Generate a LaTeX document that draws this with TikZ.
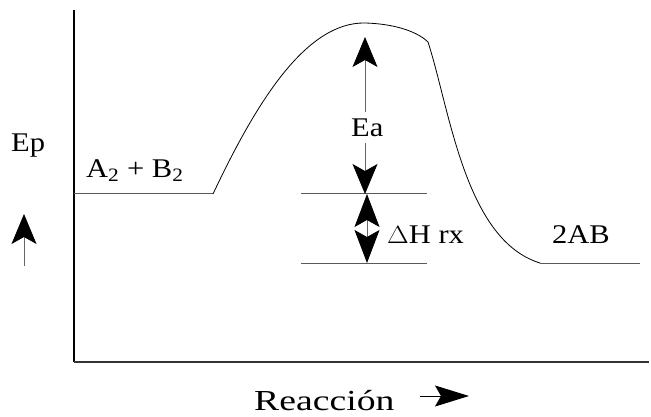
\documentclass[tikz,border=0pt]{standalone}
\usepackage{fontspec}
\usepackage{graphicx}
\setmainfont{Liberation Serif}
\usetikzlibrary{arrows.meta}
\newcommand\wtext[1]{\scalebox{1.13}[1]{#1}}
\begin{document}
\begin{tikzpicture}[x=1pt,y=-1pt,
  lbl/.style={font=\fontsize{27}{30}\selectfont, inner sep=0pt, anchor=base west},
  level/.style={draw=black!65, line width=1pt},
  bighead/.style={-{Stealth[length=30pt,width=25pt,inset=7pt,color=black]}},
  thin/.style={draw=black!60, line width=0.8pt}]
\useasboundingbox (0,0) rectangle (651,417);
% axes
\coordinate (otop) at (74,10);
\coordinate (o) at (74,362);
\coordinate (xend) at (649,362);
\draw[line width=1.4pt] (otop) -- (o);
\draw[line width=1.4pt, draw=black!80] (o) -- (xend);
% levels
\coordinate (r0) at (74,194);
\coordinate (r1) at (213,194);
\coordinate (peak) at (365,23);
\coordinate (kink) at (428,42);
\coordinate (p0) at (540,263);
\coordinate (p1) at (640,263);
\draw[level] (r0) -- (r1);
\draw[level] (p0) -- (p1);
\draw[line width=0.8pt] (r1) .. controls (255,105) and (305,22) .. (peak)
  .. controls (400,24) and (420,34) .. (kink)
  .. controls (450,110) and (465,240) .. (p0);
% reference lines
\coordinate (h1a) at (301,194);
\coordinate (h1b) at (427,194);
\coordinate (h2a) at (301,263);
\coordinate (h2b) at (427,263);
\draw[level] (h1a) -- (h1b);
\draw[level] (h2a) -- (h2b);
% Ea
\node[lbl] (ea) at (351,137) {\wtext{Ea}};
\coordinate (eatop) at (365,37);
\coordinate (eabot) at (365,194);
\coordinate (eaup) at (365,112);
\coordinate (eadn) at (365,143);
\draw[thin, bighead] (eaup) -- (eatop);
\draw[thin, bighead] (eadn) -- (eabot);
% Delta H
\coordinate (dh1) at (367,194);
\coordinate (dh2) at (367,263);
\draw[thin, {Stealth[length=33pt,width=25pt,inset=7pt,color=black]}-{Stealth[length=33pt,width=25pt,inset=7pt,color=black]}] (dh1) -- (dh2);
\node[lbl] (dh) at (387,243) {\wtext{$\Delta$H rx}};
% labels
\node[lbl] (ep) at (11,152) {\wtext{Ep}};
\coordinate (epb) at (24,266);
\coordinate (ept) at (24,214);
\draw[thin, bighead] (epb) -- (ept);
\node[lbl] (ab) at (86,178) {\wtext{A\textsubscript{2} + B\textsubscript{2}}};
\node[lbl] (p) at (552,243) {\wtext{2AB}};
\node[lbl, font=\fontsize{29}{32}\selectfont] (rx) at (254,410) {\scalebox{1.3}[1]{Reacción}};
\coordinate (ra) at (420,396);
\coordinate (rb) at (469,396);
\draw[line width=1pt, -{Stealth[length=34pt,width=21pt,inset=6pt,color=black]}] (ra) -- (rb);
\end{tikzpicture}
\end{document}
